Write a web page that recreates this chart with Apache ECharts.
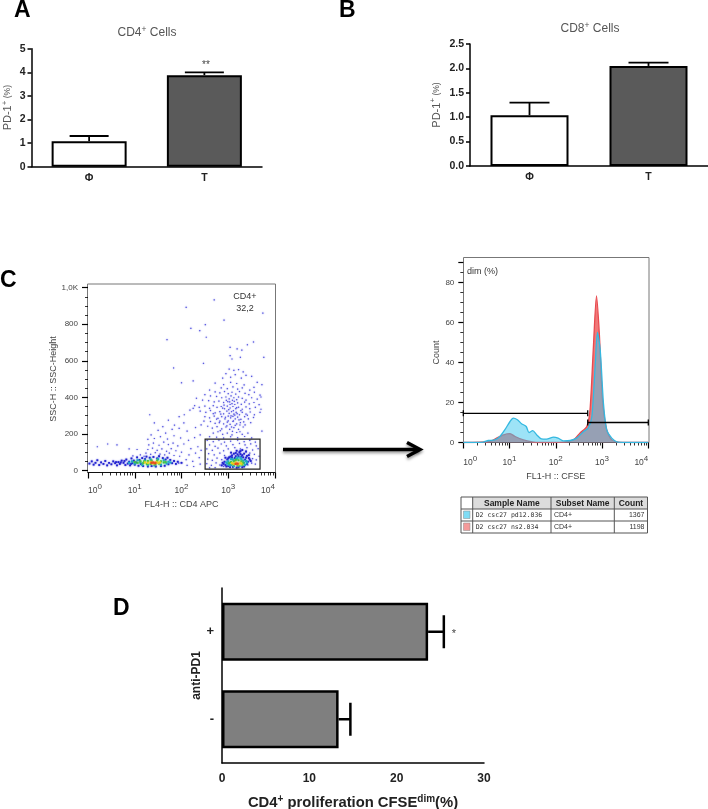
<!DOCTYPE html>
<html>
<head>
<meta charset="utf-8">
<style>html,body{margin:0;padding:0;background:#fff}#main{width:708px;height:809px}</style>
<script src="https://cdn.jsdelivr.net/npm/echarts@6/dist/echarts.min.js"></script>
</head>
<body>
<div id="main"></div>
<script>
// panel A and B, PD-1+ bars
var groups = ['Φ', 'T'];
var cd4Pd1 = [1.08, 3.88];
var cd4Pd1Top = [1.3, 4.0];
var cd8Pd1 = [1.04, 2.05];
var cd8Pd1Top = [1.3, 2.12];

// panel D, horizontal bars
var antiPd1 = ['-', '+'];
var cfseDim = [13.35, 23.6];
var cfseDimTop = [14.7, 25.4];

// panel C dot plot, [log10 FL4-H, SSC-H], one list per density colour
var dotsSparse = [
  [2.7,933],[2.1,892],[3.74,861],[2.91,823],[2.2,778],[2.39,765],[2.51,798],[2.53,729],[1.69,716],[3.54,703],
  [3.41,688],[3.04,674],[3.19,665],[3.29,659],[3.04,628],[3.76,619],[3.26,619],[3.08,610],[2.47,586],[1.83,561],
  [3.02,555],[3.12,548],[3.22,552],[3.32,540],[2.95,530],[3.15,525],[3.38,520],[2.88,505],[3.05,510],[3.28,505],
  [3.5,515],[2.0,480],[2.25,490],[2.72,478],[2.9,470],[3.05,482],[3.18,476],[3.34,468],[3.62,482],[3.72,470],
  [2.85,452],[2.98,448],[3.1,458],[3.2,445],[3.3,452],[3.46,440],[3.55,455],[2.6,440],[2.72,430],[2.82,425],
  [2.92,432],[3.0,420],[3.08,428],[3.16,418],[3.24,432],[3.36,422],[3.44,415],[3.56,428],[3.68,412],[2.5,415],
  [2.62,408],[2.75,405],[2.86,398],[2.95,402],[3.02,392],[3.06,408],[3.12,398],[3.18,388],[3.22,402],[3.3,395],
  [3.38,385],[3.5,398],[3.62,390],[3.7,402],[2.32,395],[2.45,385],[2.58,382],[2.7,375],[2.8,380],[2.9,372],
  [2.96,384],[3.03,375],[3.08,366],[3.13,378],[3.2,370],[3.28,362],[3.35,374],[3.45,365],[3.55,372],[3.66,360],
  [2.28,355],[2.38,345],[2.5,352],[2.6,340],[2.68,355],[2.76,345],[2.85,350],[2.92,338],[2.98,352],[3.04,342],
  [3.1,350],[3.16,338],[3.22,346],[3.3,335],[3.38,348],[3.46,338],[3.58,345],[3.7,335],[2.4,325],[2.52,318],
  [2.62,328],[2.72,315],[2.82,322],[2.9,310],[2.97,325],[3.02,312],[3.07,322],[3.12,308],[3.17,318],[3.24,305],
  [3.3,318],[3.38,308],[3.47,320],[3.56,305],[3.68,318],[2.5,295],[2.6,288],[2.7,298],[2.78,285],[2.86,295],
  [2.93,282],[3.0,298],[3.05,288],[3.1,296],[3.15,282],[3.2,292],[3.27,280],[3.35,295],[3.43,282],[3.54,290],
  [2.62,268],[2.72,258],[2.82,270],[2.9,255],[2.98,265],[3.04,252],[3.1,268],[3.18,255],[3.26,262],[3.36,250],
  [3.48,262],[2.56,242],[2.66,232],[2.76,240],[2.86,228],[2.95,238],[3.03,225],[3.12,235],[3.22,225],[3.32,238],
  [3.72,215],[2.68,205],[2.78,212],[2.88,198],[2.98,205],[3.08,195],[3.18,208],[3.3,198],[3.42,205],
  [2.6,185],[2.75,182],[2.9,178],[3.05,185],[3.2,180],[3.35,186],[3.5,178],
  // thicker middle of the cloud
  [2.99,377],[3.04,361],[3.09,384],[3.01,333],[3.06,299],[3.11,327],[3.14,361],[3.19,311],[2.94,291],[2.88,341],
  [3.0,271],[3.14,303],[3.23,277],[2.84,308],[3.27,327],[2.91,358],[3.18,344],[3.11,272],[2.97,244],[3.07,238],
  [3.15,247],[2.81,262],[3.25,249],[3.33,266],[2.75,281],[2.68,311],[3.41,302],[3.09,214],[2.83,218],[3.25,212],
  [1.32,305],[1.42,260],[1.72,275],[1.95,295],[2.06,305],[2.18,330],[2.25,340],[2.05,260],[1.85,248],[1.6,240],
  [1.35,195],[1.5,220],[1.66,205],[1.8,225],[1.95,230],[2.12,215],[2.3,235],[2.42,250],[2.48,270],[1.28,170],
  [1.42,175],[1.55,185],[1.7,172],[1.84,190],[1.98,178],[2.15,165],[2.28,180],[2.4,195],[1.3,140],[1.4,150],
  [1.52,138],[1.62,155],[1.72,142],[1.82,150],[1.92,135],[2.05,145],[2.2,120],[2.35,130],[1.28,115],[1.38,122],
  [1.48,110],[1.58,118],[1.68,105],[1.78,120],[1.88,108],[2.0,100],[2.16,85],[2.3,95],[2.42,110],[1.24,95],
  [1.34,88],[1.44,98],[1.54,90],[1.64,85],[1.74,95],[1.84,82],[1.96,78],[2.1,60],[2.24,50],[2.38,70],
  [0.2,130],[0.42,145],[0.62,140],[0.88,118],[1.05,115],[0.96,80],[1.12,85],[1.2,78],[2.12,28],[2.26,22],[2.4,35],[1.94,40],
  // inside the gate
  [2.55,165],[2.68,158],[2.8,166],[2.92,155],[3.05,160],[3.2,166],[3.34,158],[3.46,165],[3.58,155],[2.6,140],
  [2.72,132],[2.85,145],[2.96,135],[3.1,142],[3.24,148],[3.36,140],[3.48,146],[3.6,135],[2.54,118],[2.66,110],
  [2.78,122],[2.9,108],[3.0,118],[3.14,125],[3.26,118],[3.4,125],[3.52,112],[3.64,120],[2.58,92],[2.7,85],
  [2.82,95],[2.92,82],[3.46,95],[3.56,88],[3.66,78],[2.56,62],[2.66,55],[2.76,68],[2.86,60],[3.52,65],[3.6,58],
  [2.54,38],[2.64,28],[2.74,42],[2.82,30],[2.9,22],[3.5,40],[3.42,30],[3.58,35],[2.6,15],[2.72,16]
];
var dotsBlue = [
  [0.03,38],[0.08,50],[0.12,32],[0.16,42],[0.2,56],[0.24,30],[0.28,44],[0.33,36],[0.37,52],[0.41,28],
  [0.45,42],[0.5,34],[0.54,50],[0.58,40],[0.62,28],[0.65,46],[0.68,36],[0.72,54],[0.76,42],[0.8,30],
  [0.82,60],[0.85,38],[0.88,48],[0.9,28],[0.93,66],[0.95,40],[0.98,54],[1.0,32],[1.03,44],[1.05,72],
  [1.08,26],[1.1,58],[1.13,36],[1.16,68],[1.18,24],[1.22,62],[1.25,76],[1.28,22],[1.32,70],[1.36,24],
  [1.4,74],[1.45,22],[1.48,66],[1.52,78],[1.56,24],[1.6,68],[1.64,26],[1.66,60],[1.7,70],[1.72,34],
  [1.76,58],[1.8,40],[1.84,52],[1.88,36],[1.92,48],[2.0,42],[0.7,44],[0.78,52],[0.92,36],[0.6,46],
  // blob on the right, leaning up
  [2.86,28],[2.9,36],[2.92,48],[2.96,22],[2.98,60],[3.02,72],[3.04,18],[3.08,82],[3.12,92],[3.14,68],
  [3.18,16],[3.2,88],[3.24,100],[3.28,76],[3.3,18],[3.34,92],[3.36,60],[3.4,80],[3.42,48],[3.44,68],
  [3.48,52],[3.3,112],[3.18,108],[3.06,98],[2.94,70],[3.38,104],
  [2.88,42],[2.94,30],[3.0,24],[3.0,66],[3.05,76],[3.08,70],[3.1,20],[3.16,78],[3.16,96],[3.22,78],
  [3.22,18],[3.26,90],[3.3,84],[3.32,72],[3.34,22],[3.38,70],[3.4,36],[3.46,60],[3.44,84],[3.26,106]
];
var dotsCyan = [
  [0.88,42],[0.94,50],[1.0,38],[1.06,56],[1.12,44],[1.16,30],[1.22,54],[1.28,30],[1.34,60],[1.42,28],
  [1.5,62],[1.56,32],[1.62,56],[1.68,38],[1.72,48],[1.76,44],
  [2.98,38],[3.0,50],[3.06,30],[3.06,62],[3.12,24],[3.14,54],[3.2,70],[3.24,24],[3.28,62],[3.34,42],[3.36,30],[3.38,52],
  [3.02,30],[3.1,60],[3.18,64],[3.26,70],[3.32,54],[3.4,44],[2.96,44]
];
var dotsGreen = [
  [1.0,46],[1.06,42],[1.12,50],[1.18,40],[1.2,50],[1.26,36],[1.28,52],[1.34,36],[1.36,54],[1.44,34],
  [1.48,54],[1.52,38],[1.56,50],[1.62,44],[1.66,46],
  [3.02,40],[3.06,46],[3.1,34],[3.12,50],[3.16,58],[3.2,28],[3.22,56],[3.28,50],[3.3,32],[3.32,42]
];
var dotsYellow = [
  [1.22,44],[1.28,42],[1.34,46],[1.4,38],[1.46,46],[1.5,42],[1.54,44],
  [3.08,40],[3.12,36],[3.16,44],[3.22,34],[3.26,42],[3.28,36]
];
var dotsRed = [[1.36,42],[1.4,44],[1.44,40],[3.16,36],[3.2,38]];
var cd4Gate = [2.505, 3.68, 7, 172];

// panel C histogram, [log10 FL1-H, count] along each outline
var histBlue = [
  [0,0],[0.43,0.2],[0.54,1],[0.68,1.3],[0.79,3],[0.9,6.4],[1.01,10.5],[1.08,12.2],[1.17,11.4],[1.26,9.4],
  [1.36,8],[1.42,5],[1.5,5.9],[1.59,3.8],[1.69,1.8],[1.8,1.7],[1.95,2.7],[2.05,2.2],[2.16,0.8],[2.31,1],
  [2.45,2.2],[2.6,5.5],[2.7,7.2],[2.78,13],[2.85,38],[2.9,55],[2.96,46.5],[3.03,19.7],[3.1,6.4],[3.21,2.2],
  [3.35,0.2],[4,0]
];
var histRed = [
  [0,0],[0.58,0.5],[0.72,2.2],[0.87,3.8],[1.01,4.4],[1.12,3],[1.3,1.3],[1.44,0.5],[1.59,0],[2.16,0.2],
  [2.38,1.3],[2.52,4.7],[2.67,8],[2.74,16.4],[2.81,46.5],[2.88,73.3],[2.94,55],[3.01,21.4],[3.1,6.4],[3.21,1.3],
  [3.39,0],[4,0]
];
// [from, to, level]
var histGates = [[0, 2.69, 14.6], [2.69, 4, 10]];

var logTicks = [0, 1, 2, 3, 4];
var tableColumns = ['Sample Name', 'Subset Name', 'Count'];
var tableRows = [
  ['D2 csc27 pd12.036', 'CD4+', '1367', '#7fdcf5'],
  ['D2 csc27 ns2.034', 'CD4+', '1198', '#f59a9a']
];

var sans = '"Liberation Sans", Arial, sans-serif';

// minor ticks of a log axis, 2..9 in every decade
var minorLogTicks = [];
logTicks.slice(0, 4).forEach(function (k) {
  for (var m = 2; m < 10; m++) minorLogTicks.push(k + Math.log10(m));
});

function pairs(a, b) {
  return a.map(function (v, i) { return [i, v, b[i]]; });
}

// error bar from the bar end to a cap
function errorSeries(x, y, data, capSize, lineWidth, horizontal) {
  return {
    type: 'custom', xAxisIndex: x, yAxisIndex: y, data: data, clip: false, z: 1,
    renderItem: function (params, api) {
      var i = api.value(0);
      var a = api.coord(horizontal ? [api.value(1), i] : [i, api.value(1)]);
      var b = api.coord(horizontal ? [api.value(2), i] : [i, api.value(2)]);
      var cap = horizontal
        ? { x1: b[0], y1: b[1] - capSize / 2, x2: b[0], y2: b[1] + capSize / 2 }
        : { x1: b[0] - capSize / 2, y1: b[1], x2: b[0] + capSize / 2, y2: b[1] };
      var st = { stroke: '#000', lineWidth: lineWidth };
      return { type: 'group', children: [
        { type: 'line', shape: { x1: a[0], y1: a[1], x2: b[0], y2: b[1] }, style: st },
        { type: 'line', shape: cap, style: st }
      ] };
    }
  };
}

function barSeries(x, y, values, colors, width, borderWidth) {
  return {
    type: 'bar', xAxisIndex: x, yAxisIndex: y, barWidth: width, z: 2,
    data: values.map(function (v, i) {
      return { value: v, itemStyle: { color: colors[i], borderColor: '#000', borderWidth: borderWidth } };
    })
  };
}

function dotSeries(data, color, size, z) {
  return {
    type: 'scatter', xAxisIndex: 3, yAxisIndex: 2, data: data, symbol: 'rect', symbolSize: size,
    itemStyle: { color: color, opacity: 1, shadowBlur: 1.5, shadowColor: color }, z: z, silent: true
  };
}

function histSeries(data, line, fill, z) {
  return {
    type: 'line', xAxisIndex: 5, yAxisIndex: 3, data: data, showSymbol: false, smooth: 0.25, z: z,
    lineStyle: { color: line, width: 1.3 }, areaStyle: { color: fill, opacity: 1 }, silent: true
  };
}

var boldLabel = { fontFamily: sans, fontWeight: 'bold', fontSize: 10.5, color: '#222' };
var axisBlack = { show: true, lineStyle: { color: '#000', width: 1.5 } };
var flowRich = { b: { fontSize: 8.5, color: '#444', fontFamily: sans }, s: { fontSize: 8, color: '#444', fontFamily: sans, verticalAlign: 'bottom', padding: [0, 0, 8, 0] } };

function logLabel(v) { return '{b|10}{s|' + v + '}'; }

function logAxis(grid, offset, margin, name, nameGap) {
  return {
    type: 'value', gridIndex: grid, min: 0, max: 4, interval: 1, position: 'bottom', offset: offset,
    splitLine: { show: false },
    axisLine: { show: true, onZero: false, lineStyle: { color: '#111', width: 1.2 } },
    axisTick: { length: 6, lineStyle: { color: '#000', width: 1.2 } },
    axisLabel: { formatter: logLabel, rich: flowRich, margin: margin, alignMinLabel: 'left', alignMaxLabel: 'right', hideOverlap: false },
    name: name, nameLocation: 'middle', nameGap: nameGap, nameTextStyle: { fontSize: 9, color: '#444' }
  };
}

function logMinorAxis(grid, offset) {
  return {
    type: 'value', gridIndex: grid, min: 0, max: 4, position: 'bottom', offset: offset,
    splitLine: { show: false }, axisLabel: { show: false },
    axisLine: { show: false, onZero: false },
    axisTick: { show: true, length: 3, customValues: minorLogTicks, lineStyle: { color: '#000', width: 0.8 } }
  };
}

var pdName = '{b|PD-1}{s|+}{p| (%)}';
var pdRich = {
  b: { fontSize: 11, color: '#555', fontFamily: sans },
  s: { fontSize: 8, color: '#555', fontFamily: sans, verticalAlign: 'bottom', padding: [0, 0, 7, 0] },
  p: { fontSize: 8.5, color: '#555', fontFamily: sans }
};
var cellRich = {
  b: { fontSize: 12, color: '#555', fontFamily: sans, fontWeight: 'normal' },
  s: { fontSize: 8.5, color: '#555', fontFamily: sans, fontWeight: 'normal', verticalAlign: 'bottom', padding: [0, 0, 6, 0] }
};

var categoryAxis = function (grid) {
  return {
    type: 'category', gridIndex: grid, data: groups, axisLine: axisBlack,
    axisTick: { alignWithLabel: true, length: 4, lineStyle: { color: '#000', width: 1.5 } },
    axisLabel: Object.assign({ margin: 6 }, boldLabel)
  };
};

var option = {
  animation: false,
  backgroundColor: '#fff',
  textStyle: { fontFamily: sans },
  title: [
    { text: '{b|CD4}{s|+}{b| Cells}', left: 142, top: 20, textAlign: 'center', textStyle: { fontWeight: 'normal', rich: cellRich } },
    { text: '{b|CD8}{s|+}{b| Cells}', left: 585, top: 16, textAlign: 'center', textStyle: { fontWeight: 'normal', rich: cellRich } }
  ],
  grid: [
    { left: 31.5, top: 48.7, width: 230.5, height: 118, outerBoundsMode: 'none' },
    { left: 470, top: 44, width: 238, height: 122, outerBoundsMode: 'none' },
    { left: 88, top: 287.7, width: 187, height: 182.8, outerBoundsMode: 'none' },
    { left: 463.3, top: 262.5, width: 185, height: 180, outerBoundsMode: 'none' },
    { left: 222, top: 588, width: 262, height: 175, outerBoundsMode: 'none' }
  ],
  xAxis: [
    categoryAxis(0),
    categoryAxis(1),
    { type: 'value', gridIndex: 4, min: 0, max: 30, interval: 10, splitLine: { show: false }, axisLine: axisBlack,
      axisTick: { length: 4, lineStyle: { color: '#000', width: 1.5 } },
      axisLabel: { fontFamily: sans, fontWeight: 'bold', fontSize: 12, color: '#222', margin: 10 },
      name: '{b|CD4}{s|+}{b| proliferation CFSE}{s|dim}{b|(%)}', nameLocation: 'middle', nameGap: 31,
      nameTextStyle: { rich: {
        b: { fontSize: 14.8, fontWeight: 'bold', color: '#222', fontFamily: sans },
        s: { fontSize: 10, fontWeight: 'bold', color: '#222', fontFamily: sans, verticalAlign: 'bottom', padding: [0, 0, 8, 0] }
      } } },
    logAxis(2, 2, 10, 'FL4-H :: CD4 APC', 28),
    logMinorAxis(2, 2),
    logAxis(3, 0, 12, 'FL1-H :: CFSE', 30),
    logMinorAxis(3, 0)
  ],
  yAxis: [
    { type: 'value', gridIndex: 0, min: 0, max: 5, interval: 1, splitLine: { show: false }, axisLine: axisBlack,
      axisTick: { show: true, length: 4, lineStyle: { color: '#000', width: 1.5 } },
      axisLabel: Object.assign({ margin: 6 }, boldLabel),
      name: pdName, nameLocation: 'middle', nameRotate: 90, nameGap: 16, nameTextStyle: { rich: pdRich } },
    { type: 'value', gridIndex: 1, min: 0, max: 2.5, interval: 0.5, splitLine: { show: false }, axisLine: axisBlack,
      axisTick: { show: true, length: 4, lineStyle: { color: '#000', width: 1.5 } },
      axisLabel: Object.assign({ margin: 6, formatter: function (v) { return v.toFixed(1); } }, boldLabel),
      name: pdName, nameLocation: 'middle', nameRotate: 90, nameGap: 26, nameTextStyle: { rich: pdRich } },
    { type: 'value', gridIndex: 2, min: 0, max: 1000, interval: 200, offset: 1, splitLine: { show: false },
      axisLine: { show: false },
      axisTick: { show: true, length: 6, lineStyle: { color: '#000', width: 1.2 } },
      minorTick: { show: true, splitNumber: 4, length: 3, lineStyle: { color: '#000', width: 0.8 } },
      axisLabel: { fontSize: 8, color: '#444', margin: 9, formatter: function (v) { return v === 1000 ? '1,0K' : v; } },
      name: 'SSC-H :: SSC-Height', nameLocation: 'middle', nameRotate: 90, nameGap: 29,
      nameTextStyle: { fontSize: 9, color: '#444' } },
    { type: 'value', gridIndex: 3, min: 0, max: 90, interval: 20, splitLine: { show: false },
      axisLine: { show: false },
      axisTick: { show: true, length: 5, lineStyle: { color: '#000', width: 1.2 } },
      minorTick: { show: true, splitNumber: 4, length: 3, lineStyle: { color: '#000', width: 0.8 } },
      axisLabel: { fontSize: 8, color: '#444', margin: 9, showMaxLabel: false },
      name: 'Count', nameLocation: 'middle', nameRotate: 90, nameGap: 21,
      nameTextStyle: { fontSize: 9, color: '#444' } },
    { type: 'category', gridIndex: 4, data: antiPd1, axisLine: axisBlack,
      axisTick: { alignWithLabel: true, length: 5, lineStyle: { color: '#000', width: 1.5 } },
      axisLabel: { fontFamily: sans, fontWeight: 'bold', fontSize: 13, color: '#222', margin: 8 },
      name: 'anti-PD1', nameLocation: 'middle', nameRotate: 90, nameGap: 19,
      nameTextStyle: { fontFamily: sans, fontWeight: 'bold', fontSize: 12, color: '#222' } }
  ],
  series: [
    barSeries(0, 0, cd4Pd1, ['#fff', '#5a5a5a'], 75, 2),
    errorSeries(0, 0, pairs(cd4Pd1, cd4Pd1Top), 39, 1.8, false),
    barSeries(1, 1, cd8Pd1, ['#fff', '#5a5a5a'], 78, 2),
    errorSeries(1, 1, pairs(cd8Pd1, cd8Pd1Top), 40, 1.8, false),
    barSeries(2, 4, cfseDim, ['#7f7f7f', '#7f7f7f'], 58, 2.5),
    errorSeries(2, 4, pairs(cfseDim, cfseDimTop), 33, 2.5, true),
    dotSeries(dotsSparse, '#5a5ae0', 1.2, 3),
    dotSeries(dotsBlue, '#2424d0', 1.8, 4),
    dotSeries(dotsCyan, '#1fa8c8', 2, 5),
    dotSeries(dotsGreen, '#3fc24a', 2, 6),
    dotSeries(dotsYellow, '#e6d21e', 2, 7),
    dotSeries(dotsRed, '#e8481c', 2, 8),
    {
      type: 'custom', xAxisIndex: 3, yAxisIndex: 2, data: [cd4Gate], z: 9, clip: false,
      renderItem: function (params, api) {
        var p1 = api.coord([api.value(0), api.value(3)]);
        var p2 = api.coord([api.value(1), api.value(2)]);
        return { type: 'rect', shape: { x: p1[0], y: p1[1], width: p2[0] - p1[0], height: p2[1] - p1[1] },
          style: { fill: 'none', stroke: '#222', lineWidth: 1.2 } };
      }
    },
    histSeries(histRed, '#e8494f', 'rgb(240,120,120)', 3),
    histSeries(histBlue, '#35b8e0', 'rgba(60,200,240,0.5)', 4),
    {
      type: 'custom', xAxisIndex: 5, yAxisIndex: 3, data: histGates, z: 6, clip: false,
      renderItem: function (params, api) {
        var a = api.coord([api.value(0), api.value(2)]);
        var b = api.coord([api.value(1), api.value(2)]);
        var st = { stroke: '#000', lineWidth: 1.3 };
        return { type: 'group', children: [
          { type: 'line', shape: { x1: a[0], y1: a[1], x2: b[0], y2: b[1] }, style: st },
          { type: 'line', shape: { x1: a[0], y1: a[1] - 3, x2: a[0], y2: a[1] + 3 }, style: st },
          { type: 'line', shape: { x1: b[0], y1: b[1] - 3, x2: b[0], y2: b[1] + 3 }, style: st }
        ] };
      }
    }
  ],
  graphic: { elements: buildGraphics() }
};

function buildGraphics() {
  var els = [];
  function label(t, x, y, extra) {
    els.push({ type: 'text', x: x, y: y, silent: true, style: Object.assign({ text: t, fontFamily: sans, fill: '#000' }, extra) });
  }
  function line(x1, y1, x2, y2, color, w) {
    els.push({ type: 'line', silent: true, shape: { x1: x1, y1: y1, x2: x2, y2: y2 }, style: { stroke: color, lineWidth: w } });
  }
  var letter = { fontSize: 23, fontWeight: 'bold' };
  label('A', 14, -1, letter);
  label('B', 339, -1, letter);
  label('C', 0, 269, letter);
  label('D', 113, 597, letter);

  label('**', 206, 60, { fontSize: 10, fill: '#444', align: 'center' });
  label('*', 454, 628, { fontSize: 11, fill: '#444', align: 'center' });

  // frames of the flow plots
  els.push({ type: 'rect', silent: true, shape: { x: 87.5, y: 284, width: 188, height: 188.5 }, style: { fill: 'none', stroke: '#777', lineWidth: 1 } });
  els.push({ type: 'rect', silent: true, shape: { x: 463.5, y: 257.5, width: 185.5, height: 185 }, style: { fill: 'none', stroke: '#777', lineWidth: 1 } });
  label('CD4+', 245, 292, { fontSize: 9, fill: '#333', align: 'center' });
  label('32,2', 245, 304, { fontSize: 9, fill: '#333', align: 'center' });
  label('dim (%)', 467, 267, { fontSize: 9, fill: '#333' });

  // arrow between the plots
  var shadow = { shadowBlur: 3, shadowColor: 'rgba(0,0,0,0.4)', shadowOffsetY: 2 };
  els.push({ type: 'line', silent: true, shape: { x1: 283, y1: 449.5, x2: 419, y2: 449.5 }, style: Object.assign({ stroke: '#000', lineWidth: 3.5 }, shadow) });
  els.push({ type: 'polyline', silent: true, shape: { points: [[407, 442.5], [420, 449.5], [407, 456.5]] }, style: Object.assign({ stroke: '#000', fill: 'none', lineWidth: 3.5 }, shadow) });

  // sample table
  var left = 461, right = 647.5, top = 497, rowH = 12, cols = [472.7, 551, 614.3];
  els.push({ type: 'rect', silent: true, shape: { x: cols[0], y: top, width: right - cols[0], height: rowH }, style: { fill: '#dcdcdc' } });
  els.push({ type: 'rect', silent: true, shape: { x: left, y: top, width: right - left, height: rowH * 3 }, style: { fill: 'none', stroke: '#555', lineWidth: 1 } });
  line(left, top + rowH, right, top + rowH, '#555', 1);
  line(left, top + rowH * 2, right, top + rowH * 2, '#555', 1);
  cols.forEach(function (x) { line(x, top, x, top + rowH * 3, '#555', 1); });
  var colEnds = [cols[1], cols[2], right];
  tableColumns.forEach(function (t, i) {
    label(t, (cols[i] + colEnds[i]) / 2, top + 2, { fontSize: 8.5, fontWeight: 'bold', fill: '#222', align: 'center' });
  });
  tableRows.forEach(function (r, i) {
    var y = top + rowH * (i + 1);
    els.push({ type: 'rect', silent: true, shape: { x: left + 2.5, y: y + 2, width: 6.5, height: 7.5 }, style: { fill: r[3], stroke: '#888', lineWidth: 0.5 } });
    label(r[0], cols[0] + 3, y + 3, { fontSize: 6.5, fontFamily: '"DejaVu Sans Mono", monospace', fill: '#333' });
    label(r[1], cols[1] + 3, y + 3, { fontSize: 7, fill: '#333' });
    label(r[2], right - 3, y + 3, { fontSize: 7, fill: '#333', align: 'right' });
  });
  return els;
}

var chart = echarts.init(document.getElementById('main'), null, { renderer: 'canvas' });
chart.setOption(option);
</script>
</body>
</html>
